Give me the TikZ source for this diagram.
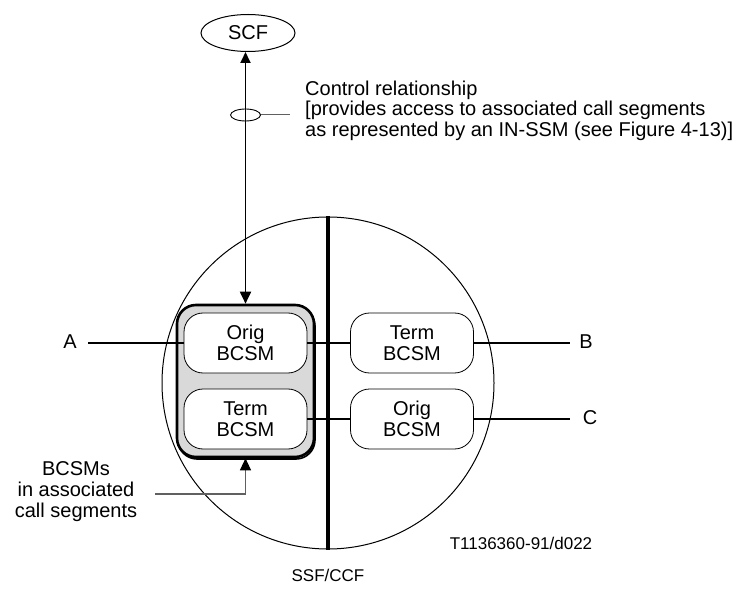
\documentclass[tikz,border=0pt]{standalone}
\usepackage{fontspec}
\setmainfont{Liberation Sans}
\usetikzlibrary{shapes.geometric,arrows.meta}
\definecolor{grpfill}{HTML}{D9D9D9}
\definecolor{leader}{HTML}{606060}
\tikzset{
  bcsm/.style={draw, line width=0.8pt, rounded corners=19pt, fill=white,
    minimum width=123pt, minimum height=60pt, align=center,
    font=\fontsize{20}{21}\selectfont, inner sep=0pt},
  grpbox/.style={draw, line width=2.6pt, rounded corners=19pt, fill=grpfill,
    minimum width=137pt, minimum height=152pt, inner sep=0pt},
  wire/.style={line width=1.1pt},
  bigtip/.style={Triangle[length=12pt,width=11pt]},
  lbl/.style={font=\fontsize{20}{21}\selectfont, inner sep=0pt},
  small/.style={font=\fontsize{17}{18}\selectfont, inner sep=0pt},
}
\begin{document}
\begin{tikzpicture}[x=1pt,y=-1pt]
\useasboundingbox (0,0) rectangle (749,593);

% SSF/CCF boundary with its dividing bar
\node (ssf) [circle, draw, line width=1pt, minimum size=332pt, inner sep=0pt] at (328,383) {};
\draw[line width=4pt] (ssf.north) -- (ssf.south);

% call segment group (with a slight shadow) and the BCSMs
\node (grpshadow) [grpbox, line width=1.6pt] at (246.5,383) {};
\node (grp) [grpbox] at (245.5,381) {};
\node (o1) [bcsm] at (245.5,343) {Orig\\BCSM};
\node (t1) [bcsm] at (245.5,419) {Term\\BCSM};
\node (t2) [bcsm] at (412,343) {Term\\BCSM};
\node (o2) [bcsm] at (412,419) {Orig\\BCSM};

% parties
\node (a) [lbl] at (70,342) {A};
\node (b) [lbl] at (586,342) {B};
\node (c) [lbl] at (590,418) {C};
\coordinate (aend) at (88,343);
\coordinate (bend) at (570,343);
\coordinate (cend) at (570,419);
\draw[wire] (aend) -- (o1.west);
\draw[wire] (o1.east) -- (t2.west);
\draw[wire] (t2.east) -- (bend);
\draw[wire] (t1.east) -- (o2.west);
\draw[wire] (o2.east) -- (cend);

% SCF and control relationship
\node (scf) [ellipse, draw, line width=1pt, minimum width=94pt, minimum height=37pt,
  inner sep=0pt, font=\fontsize{20}{21}\selectfont] at (248,33) {SCF};
\draw[line width=1.8pt, {Triangle[length=11pt,width=10pt]}-{Triangle[length=12pt,width=11pt]}]
  (scf.south -| grp.north) -- (grp.north);
\node (ring) [ellipse, draw, line width=0.9pt, minimum width=30pt, minimum height=12pt,
  inner sep=0pt] at (245.5,115) {};
\coordinate (ctlend) at (290,115);
\draw[leader, line width=1pt] (ring.east) -- (ctlend);
\node (ctl) [anchor=north west, align=left, inner sep=0pt,
  font=\fontsize{20}{20.8}\selectfont] at (305,80.5)
  {Control relationship\\
   {[}provides access to associated call segments\\
   as represented by an IN-SSM (see Figure 4-13)]};

% associated call segments label
\node (seg) [lbl, align=center] at (76,492) {BCSMs\\in associated\\call segments};
\coordinate (segend) at (155,494);
\draw[leader, line width=1.2pt, -{Triangle[length=12pt,width=11pt,color=black,fill=black]}]
  (segend) -| (grp.south);

% captions
\node (ref) [small] at (521,543) {T1136360-91/d022};
\node (ssfl) [small] at (328,575) {SSF/CCF};
\end{tikzpicture}
\end{document}
